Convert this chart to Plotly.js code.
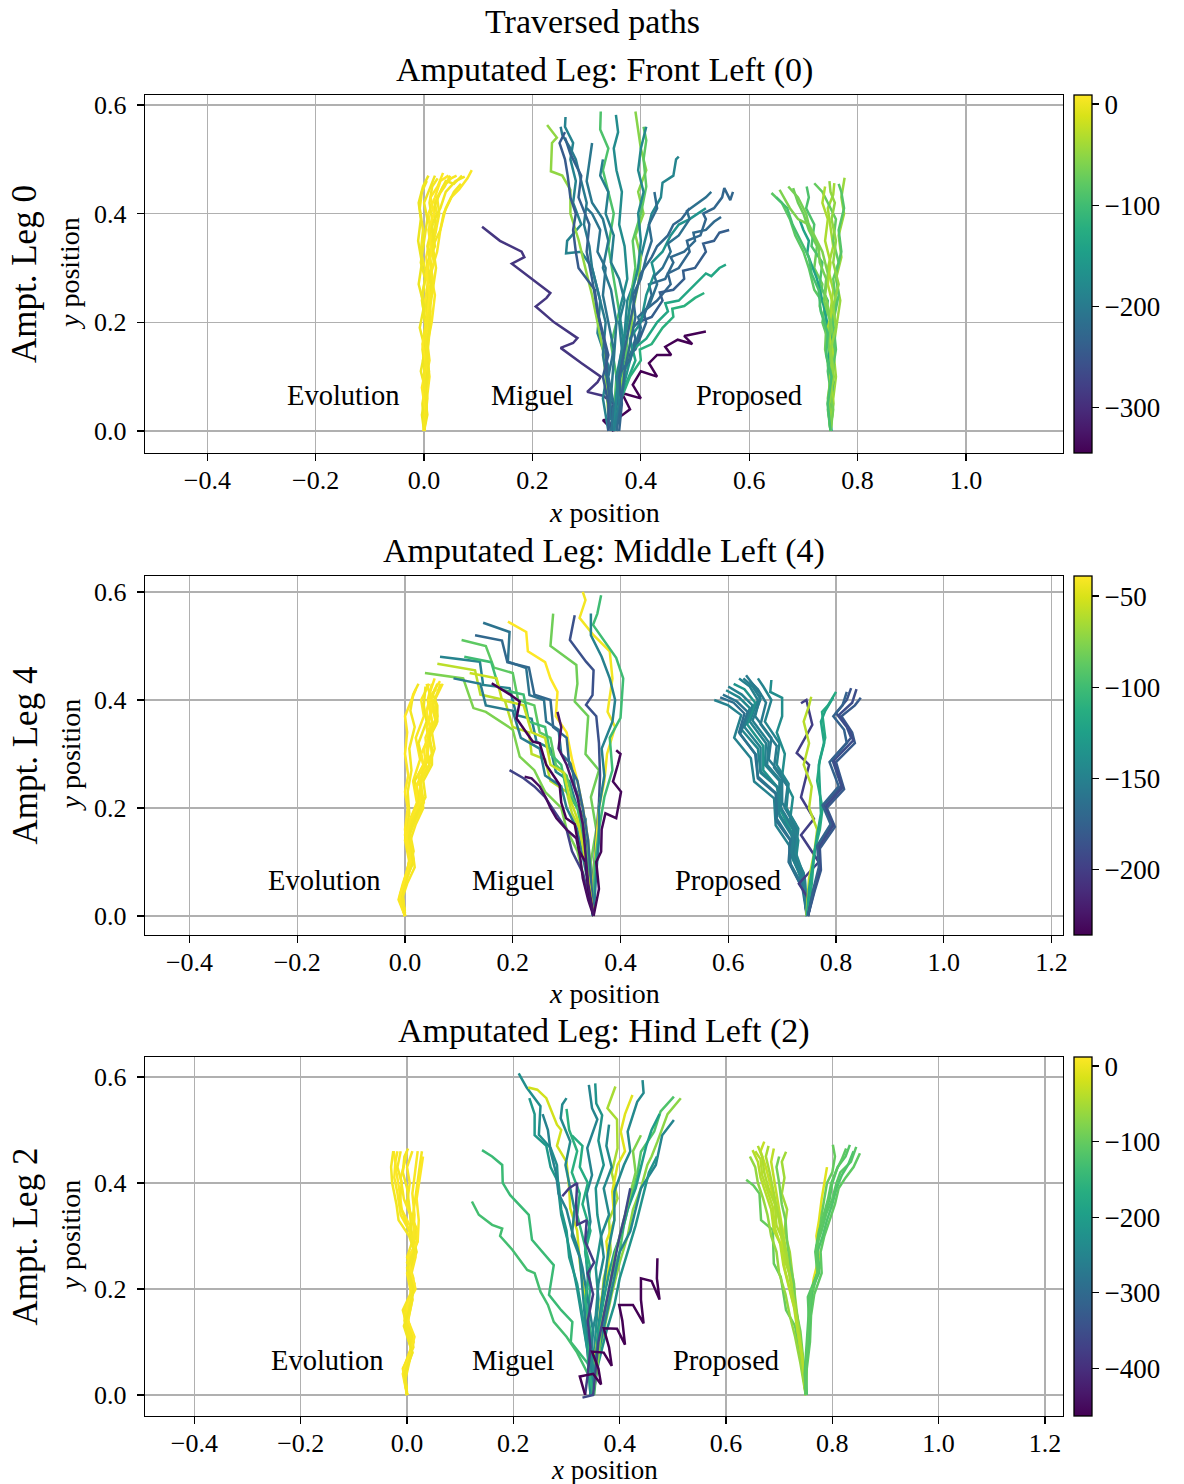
<!DOCTYPE html>
<html><head><meta charset="utf-8">
<script src="https://cdn.plot.ly/plotly-3.0.1.min.js"></script>
<style>html,body{margin:0;padding:0;background:#fff}</style>
</head><body><div id="chart" style="width:1184px;height:1484px"></div>
<script>
// ---------------- DATA ----------------
const GROUP_LABELS = ['Evolution', 'Miguel', 'Proposed'];
const GROUP_LABEL_X = [-0.15, 0.2, 0.6];
const GROUP_LABEL_Y = 0.065;
const PANEL_TITLES = ['Amputated Leg: Front Left (0)', 'Amputated Leg: Middle Left (4)', 'Amputated Leg: Hind Left (2)'];
const ROW_LABELS = ['Ampt. Leg 0', 'Ampt. Leg 4', 'Ampt. Leg 2'];
const XTICKS_1 = [-0.4, -0.2, 0.0, 0.2, 0.4, 0.6, 0.8, 1.0];
const XTICKS_2 = [-0.4, -0.2, 0.0, 0.2, 0.4, 0.6, 0.8, 1.0, 1.2];
const XTICKS_3 = [-0.4, -0.2, 0.0, 0.2, 0.4, 0.6, 0.8, 1.0, 1.2];
const YTICKS = [0.0, 0.2, 0.4, 0.6];
const CB_RANGE_1 = [-345, 9];
const CB_RANGE_2 = [-236, -39];
const CB_RANGE_3 = [-463, 12];
const CB_TICKS_1 = [0, -100, -200, -300];
const CB_TICKS_2 = [-50, -100, -150, -200];
const CB_TICKS_3 = [0, -100, -200, -300, -400];

// ---- Panel 1 (Front Left) ----
const P1_EVO = [
 [[0,0],[0.004,0.04],[-0.002,0.08],[0.005,0.12],[0.0,0.16],[0.006,0.2],[0.002,0.24],[0.008,0.28],[0.004,0.32],[0.012,0.36],[0.008,0.4],[0.02,0.43],[0.03,0.46],[0.045,0.47]],
 [[0,0],[-0.003,0.05],[0.003,0.09],[-0.002,0.13],[0.006,0.17],[0.0,0.21],[-0.004,0.25],[0.004,0.29],[-0.006,0.33],[-0.002,0.37],[-0.008,0.41],[-0.004,0.44],[0.005,0.46]],
 [[0,0],[0.005,0.04],[0.002,0.09],[0.01,0.13],[0.004,0.18],[0.012,0.22],[0.008,0.27],[0.018,0.31],[0.012,0.35],[0.025,0.39],[0.02,0.42],[0.035,0.45],[0.05,0.465],[0.06,0.47]],
 [[0,0],[0.002,0.05],[0.008,0.1],[0.003,0.14],[0.01,0.19],[0.006,0.24],[0.015,0.28],[0.01,0.33],[0.022,0.37],[0.018,0.41],[0.03,0.44],[0.04,0.46],[0.055,0.455],[0.07,0.47]],
 [[0,0],[0.006,0.06],[0.0,0.11],[0.008,0.16],[0.012,0.21],[0.005,0.26],[0.014,0.3],[0.006,0.34],[0.016,0.38],[0.01,0.42],[0.015,0.45],[0.025,0.465]],
 [[0,0],[0.004,0.05],[0.01,0.1],[0.004,0.15],[0.014,0.2],[0.02,0.25],[0.012,0.29],[0.024,0.33],[0.03,0.37],[0.04,0.41],[0.05,0.43],[0.065,0.445],[0.08,0.465],[0.088,0.48]],
 [[0,0],[-0.002,0.05],[0.004,0.1],[-0.003,0.15],[0.003,0.2],[-0.004,0.24],[0.002,0.28],[-0.006,0.31],[0.0,0.35],[0.006,0.39],[0.0,0.42],[0.012,0.45],[0.02,0.47]],
 [[0,0],[0.003,0.05],[0.0,0.1],[0.007,0.14],[0.002,0.19],[0.009,0.23],[0.016,0.28],[0.01,0.32],[0.02,0.36],[0.028,0.4],[0.024,0.43],[0.038,0.45],[0.048,0.47]],
 [[0,0],[-0.004,0.03],[0.004,0.07],[-0.006,0.11],[0.002,0.15],[-0.008,0.19],[0.0,0.23],[-0.01,0.27],[-0.004,0.31],[-0.011,0.35],[-0.006,0.39],[-0.01,0.42],[-0.002,0.45],[0.008,0.47]],
 [[0,0],[0.006,0.03],[0.001,0.07],[0.009,0.11],[0.003,0.15],[0.011,0.19],[0.004,0.23],[0.013,0.27],[0.006,0.31],[0.02,0.34],[0.014,0.38],[0.03,0.41],[0.04,0.44],[0.058,0.46],[0.075,0.468]],
 [[0,0],[0.002,0.04],[-0.004,0.08],[0.004,0.12],[-0.003,0.16],[0.005,0.2],[0.01,0.25],[0.004,0.29],[0.014,0.33],[0.008,0.37],[0.018,0.4],[0.012,0.43],[0.025,0.45],[0.035,0.475]],
 [[0,0],[0.005,0.05],[-0.001,0.1],[0.006,0.14],[0.0,0.18],[0.01,0.22],[0.016,0.26],[0.022,0.3],[0.016,0.34],[0.03,0.37],[0.036,0.4],[0.045,0.42],[0.055,0.44],[0.068,0.455]]
];
const P1_EVO_VAL = [9, 3, 6, 2, 4, 7, 1, 5, 0, 2, 8, 4];

const P1_MIG = [
 [[0.107,0.376],[0.14,0.35],[0.18,0.33],[0.185,0.32],[0.162,0.308],[0.2,0.28],[0.233,0.254],[0.226,0.245],[0.206,0.229],[0.24,0.2],[0.283,0.171],[0.275,0.162],[0.252,0.153],[0.29,0.125],[0.326,0.1],[0.32,0.09],[0.301,0.072],[0.33,0.065],[0.35,0.05],[0.34,0.02],[0.35,0.0]],
 [[0.35,0.0],[0.33,0.02],[0.36,0.025],[0.38,0.04],[0.365,0.07],[0.4,0.06],[0.385,0.085],[0.4,0.11],[0.43,0.1],[0.415,0.125],[0.43,0.14],[0.456,0.14],[0.445,0.155],[0.468,0.168],[0.495,0.16],[0.48,0.175],[0.52,0.183]],
 [[0.35,0.02],[0.37,0.1],[0.365,0.13],[0.39,0.15],[0.41,0.2],[0.405,0.22],[0.43,0.24],[0.455,0.27],[0.45,0.29],[0.47,0.3],[0.49,0.33],[0.485,0.35],[0.51,0.36],[0.52,0.39],[0.515,0.4],[0.535,0.41],[0.55,0.43],[0.554,0.447],[0.565,0.425],[0.57,0.44]],
 [[0.35,0],[0.36,0.06],[0.355,0.09],[0.375,0.12],[0.39,0.17],[0.385,0.19],[0.405,0.21],[0.42,0.25],[0.415,0.27],[0.445,0.28],[0.46,0.31],[0.455,0.32],[0.48,0.33],[0.5,0.35],[0.497,0.365],[0.52,0.37],[0.535,0.385],[0.548,0.394]],
 [[0.345,0.0],[0.355,0.05],[0.37,0.1],[0.365,0.12],[0.38,0.14],[0.4,0.18],[0.395,0.2],[0.42,0.21],[0.44,0.24],[0.435,0.255],[0.46,0.26],[0.48,0.28],[0.478,0.295],[0.5,0.3],[0.52,0.33],[0.515,0.345],[0.535,0.35],[0.545,0.365],[0.563,0.37]],
 [[0.35,0.02],[0.37,0.08],[0.39,0.13],[0.385,0.15],[0.41,0.17],[0.43,0.2],[0.45,0.22],[0.445,0.235],[0.47,0.24],[0.49,0.26],[0.51,0.28],[0.52,0.29],[0.53,0.285],[0.545,0.3],[0.557,0.306]],
 [[0.36,0.05],[0.38,0.1],[0.4,0.13],[0.398,0.15],[0.42,0.16],[0.44,0.19],[0.46,0.21],[0.458,0.225],[0.48,0.23],[0.5,0.245],[0.517,0.254]],
 [[0.35,0],[0.355,0.06],[0.36,0.12],[0.37,0.18],[0.375,0.24],[0.39,0.28],[0.4,0.32],[0.41,0.36],[0.42,0.4],[0.437,0.43],[0.44,0.457],[0.46,0.47],[0.465,0.5],[0.47,0.505]],
 [[0.34,0],[0.33,0.06],[0.34,0.12],[0.32,0.18],[0.325,0.24],[0.31,0.3],[0.29,0.33],[0.262,0.327],[0.264,0.35],[0.29,0.38],[0.275,0.42],[0.28,0.46],[0.27,0.5],[0.275,0.53],[0.26,0.56],[0.261,0.578]],
 [[0.34,0.03],[0.335,0.1],[0.33,0.15],[0.32,0.2],[0.31,0.25],[0.3,0.29],[0.285,0.352],[0.27,0.4],[0.27,0.42],[0.27,0.444],[0.255,0.47],[0.234,0.478],[0.236,0.53],[0.245,0.54],[0.227,0.563]],
 [[0.345,0.02],[0.34,0.08],[0.33,0.14],[0.335,0.2],[0.32,0.26],[0.31,0.3],[0.305,0.34],[0.295,0.38],[0.3,0.42],[0.29,0.46],[0.28,0.5],[0.27,0.52],[0.255,0.545],[0.252,0.56]],
 [[0.35,0.03],[0.355,0.1],[0.345,0.16],[0.36,0.22],[0.35,0.28],[0.34,0.34],[0.35,0.4],[0.34,0.44],[0.33,0.48],[0.34,0.52],[0.325,0.555],[0.326,0.588]],
 [[0.355,0],[0.36,0.08],[0.37,0.15],[0.36,0.22],[0.375,0.28],[0.37,0.34],[0.36,0.38],[0.365,0.44],[0.355,0.48],[0.35,0.52],[0.358,0.55],[0.354,0.582]],
 [[0.36,0.02],[0.365,0.09],[0.38,0.16],[0.385,0.22],[0.395,0.27],[0.4,0.32],[0.39,0.36],[0.405,0.4],[0.395,0.44],[0.41,0.48],[0.4,0.52],[0.395,0.55],[0.39,0.588]],
 [[0.355,0.03],[0.37,0.1],[0.375,0.17],[0.38,0.24],[0.39,0.3],[0.385,0.35],[0.4,0.4],[0.41,0.45],[0.405,0.5],[0.41,0.535],[0.405,0.56]],
 [[0.35,0.0],[0.34,0.08],[0.335,0.15],[0.32,0.22],[0.31,0.28],[0.3,0.33],[0.305,0.38],[0.285,0.43],[0.29,0.47],[0.27,0.51],[0.26,0.54]],
 [[0.34,0.0],[0.345,0.06],[0.35,0.13],[0.355,0.2],[0.345,0.26],[0.33,0.3],[0.34,0.35],[0.33,0.39],[0.31,0.42],[0.3,0.46],[0.305,0.5],[0.31,0.53]],
 [[0.355,0.02],[0.37,0.09],[0.385,0.15],[0.38,0.17],[0.4,0.2],[0.41,0.25],[0.425,0.29],[0.42,0.31],[0.44,0.33],[0.455,0.36],[0.47,0.38],[0.49,0.39],[0.505,0.4],[0.52,0.41]],
 [[0.345,0],[0.36,0.07],[0.355,0.1],[0.38,0.13],[0.4,0.19],[0.395,0.21],[0.415,0.23],[0.43,0.27],[0.425,0.285],[0.44,0.3],[0.455,0.33],[0.45,0.345],[0.47,0.36],[0.49,0.39],[0.485,0.405],[0.505,0.42],[0.52,0.43],[0.53,0.44]],
 [[0.35,0.0],[0.355,0.07],[0.365,0.14],[0.375,0.2],[0.385,0.26],[0.395,0.3],[0.4,0.35],[0.395,0.4],[0.405,0.44],[0.395,0.48],[0.4,0.52],[0.41,0.56]],
 [[0.345,0.0],[0.35,0.05],[0.34,0.1],[0.35,0.15],[0.34,0.2],[0.33,0.25],[0.335,0.3],[0.32,0.33],[0.325,0.37],[0.31,0.4],[0.3,0.41]],
 [[0.35,0.0],[0.36,0.05],[0.355,0.1],[0.365,0.15],[0.36,0.2],[0.37,0.24],[0.36,0.28],[0.345,0.31],[0.35,0.36],[0.335,0.4],[0.34,0.44],[0.325,0.47],[0.33,0.5]],
 [[0.355,0.0],[0.365,0.06],[0.37,0.11],[0.38,0.16],[0.39,0.21],[0.385,0.25],[0.4,0.28],[0.41,0.32],[0.42,0.35],[0.415,0.38],[0.43,0.41],[0.425,0.44]],
 [[0.34,0.0],[0.34,0.05],[0.33,0.1],[0.34,0.14],[0.33,0.18],[0.32,0.22],[0.315,0.26],[0.3,0.28],[0.285,0.3],[0.28,0.33],[0.275,0.37],[0.28,0.4],[0.27,0.43],[0.265,0.47],[0.26,0.5],[0.25,0.53],[0.26,0.55]],
 [[0.36,0.0],[0.365,0.05],[0.36,0.1],[0.37,0.15],[0.38,0.2],[0.39,0.25],[0.4,0.29],[0.42,0.32],[0.43,0.34],[0.45,0.36],[0.46,0.38],[0.475,0.39],[0.49,0.41]]
];
const P1_MIG_VAL = [-290, -345, -230, -225, -240, -135, -120, -185, -190, -50, -200, -90, -175, -55, -80, -235, -205, -165, -215, -180, -210, -195, -220, -245, -230];

const P1_PRO = [
 [[0.75,0],[0.745,0.04],[0.752,0.08],[0.745,0.12],[0.748,0.16],[0.735,0.2],[0.74,0.23],[0.72,0.26],[0.71,0.3],[0.7,0.33],[0.685,0.36],[0.675,0.39],[0.66,0.42],[0.641,0.438]],
 [[0.75,0],[0.748,0.05],[0.755,0.1],[0.748,0.14],[0.755,0.18],[0.75,0.22],[0.755,0.26],[0.745,0.3],[0.755,0.34],[0.75,0.38],[0.745,0.41],[0.755,0.435],[0.757,0.456]],
 [[0.75,0],[0.745,0.05],[0.75,0.1],[0.74,0.15],[0.742,0.19],[0.73,0.23],[0.735,0.27],[0.72,0.3],[0.725,0.34],[0.71,0.37],[0.7,0.4],[0.69,0.42],[0.681,0.447]],
 [[0.752,0.02],[0.755,0.06],[0.76,0.1],[0.755,0.15],[0.762,0.2],[0.768,0.24],[0.76,0.28],[0.77,0.32],[0.765,0.36],[0.775,0.4],[0.77,0.43],[0.776,0.466]],
 [[0.75,0],[0.752,0.06],[0.745,0.11],[0.75,0.16],[0.74,0.2],[0.745,0.24],[0.73,0.27],[0.735,0.31],[0.715,0.34],[0.72,0.38],[0.705,0.41],[0.71,0.43],[0.706,0.45]],
 [[0.75,0],[0.755,0.05],[0.75,0.1],[0.758,0.15],[0.75,0.19],[0.76,0.24],[0.755,0.28],[0.765,0.31],[0.755,0.35],[0.76,0.39],[0.745,0.42],[0.735,0.44],[0.72,0.456]],
 [[0.752,0],[0.748,0.04],[0.755,0.09],[0.745,0.13],[0.752,0.17],[0.746,0.19],[0.736,0.236],[0.725,0.28],[0.707,0.327],[0.71,0.35],[0.7,0.37],[0.693,0.389]],
 [[0.75,0],[0.745,0.06],[0.752,0.11],[0.748,0.16],[0.752,0.2],[0.74,0.25],[0.745,0.29],[0.735,0.33],[0.72,0.36],[0.71,0.38],[0.69,0.39],[0.675,0.41],[0.656,0.444]],
 [[0.75,0],[0.755,0.05],[0.75,0.1],[0.755,0.14],[0.745,0.19],[0.755,0.23],[0.745,0.27],[0.75,0.31],[0.74,0.35],[0.745,0.39],[0.735,0.42],[0.74,0.45]],
 [[0.75,0],[0.745,0.05],[0.752,0.1],[0.76,0.15],[0.755,0.2],[0.765,0.25],[0.76,0.29],[0.77,0.33],[0.765,0.37],[0.775,0.41],[0.77,0.44],[0.765,0.455]],
 [[0.75,0],[0.755,0.04],[0.748,0.08],[0.756,0.12],[0.745,0.16],[0.75,0.2],[0.738,0.24],[0.742,0.28],[0.73,0.31],[0.728,0.34],[0.712,0.37],[0.705,0.4],[0.69,0.43],[0.672,0.45]],
 [[0.75,0],[0.748,0.05],[0.756,0.1],[0.75,0.15],[0.76,0.19],[0.755,0.23],[0.765,0.27],[0.755,0.31],[0.76,0.35],[0.752,0.39],[0.758,0.42],[0.75,0.44],[0.748,0.46]],
 [[0.75,0],[0.745,0.05],[0.752,0.1],[0.742,0.14],[0.745,0.18],[0.732,0.22],[0.728,0.26],[0.715,0.29],[0.71,0.32],[0.7,0.34],[0.69,0.36],[0.68,0.38],[0.67,0.41],[0.65,0.43]]
];
const P1_PRO_VAL = [-80, -40, -70, -45, -90, -75, -140, -60, -35, -85, -65, -50, -95];

// ---- Panel 2 (Middle Left) ----
const P2_EVO = [
 [[0,0],[-0.008,0.03],[0.0,0.065],[0.012,0.1],[0.004,0.14],[0.015,0.17],[0.03,0.2],[0.022,0.24],[0.04,0.27],[0.035,0.31],[0.052,0.35],[0.045,0.39],[0.055,0.42],[0.065,0.435]],
 [[0,0],[-0.006,0.035],[0.004,0.07],[0.015,0.105],[0.006,0.145],[0.02,0.18],[0.035,0.21],[0.028,0.25],[0.045,0.28],[0.04,0.32],[0.058,0.355],[0.05,0.39],[0.06,0.41],[0.07,0.43]],
 [[0,0],[-0.01,0.03],[-0.002,0.06],[0.008,0.1],[0.0,0.14],[0.01,0.18],[0.022,0.21],[0.015,0.25],[0.028,0.29],[0.02,0.33],[0.035,0.37],[0.03,0.4],[0.045,0.43]],
 [[0,0],[-0.008,0.035],[0.0,0.07],[0.01,0.11],[0.0,0.15],[0.008,0.19],[0.005,0.23],[0.012,0.27],[0.008,0.31],[0.018,0.35],[0.01,0.38],[0.015,0.41],[0.025,0.43]],
 [[0,0],[-0.005,0.04],[0.005,0.08],[0.014,0.11],[0.005,0.15],[0.018,0.19],[0.032,0.22],[0.025,0.26],[0.042,0.29],[0.038,0.33],[0.05,0.36],[0.042,0.4],[0.05,0.43]],
 [[0,0.005],[-0.006,0.04],[0.002,0.075],[0.01,0.11],[0.004,0.15],[0.012,0.18],[0.026,0.21],[0.018,0.25],[0.034,0.28],[0.025,0.32],[0.04,0.36],[0.035,0.39],[0.038,0.425]],
 [[0,0],[-0.008,0.03],[0.002,0.065],[0.014,0.1],[0.002,0.14],[0.012,0.17],[0.025,0.2],[0.02,0.24],[0.036,0.27],[0.03,0.3],[0.048,0.34],[0.04,0.38],[0.048,0.41],[0.058,0.42]],
 [[0,0],[-0.004,0.04],[0.004,0.08],[0.016,0.12],[0.008,0.16],[0.022,0.2],[0.028,0.23],[0.032,0.27],[0.05,0.3],[0.045,0.34],[0.06,0.37],[0.055,0.4],[0.066,0.43]],
 [[0,0],[-0.012,0.03],[-0.004,0.06],[0.006,0.09],[0.01,0.12],[0.002,0.15],[0.01,0.18],[0.028,0.21],[0.03,0.24],[0.024,0.26],[0.04,0.29],[0.045,0.32],[0.04,0.35],[0.05,0.38],[0.045,0.41],[0.055,0.44]],
 [[0,0.01],[-0.009,0.04],[0.002,0.07],[0.016,0.1],[0.012,0.13],[0.008,0.15],[0.022,0.19],[0.038,0.22],[0.034,0.25],[0.05,0.28],[0.05,0.31],[0.044,0.33],[0.06,0.36],[0.06,0.39],[0.052,0.41],[0.06,0.43]],
 [[0,0],[-0.01,0.035],[0.0,0.07],[0.01,0.1],[0.004,0.13],[0.0,0.16],[0.005,0.2],[0.0,0.23],[0.006,0.26],[0.0,0.3],[0.004,0.34],[0.0,0.37],[0.012,0.4],[0.02,0.42]],
 [[0,0],[-0.006,0.03],[0.004,0.06],[0.018,0.09],[0.014,0.12],[0.01,0.14],[0.02,0.17],[0.034,0.2],[0.03,0.23],[0.03,0.25],[0.045,0.28],[0.055,0.31],[0.05,0.34],[0.058,0.37],[0.05,0.4],[0.04,0.43]]
];
const P2_EVO_VAL = [-39, -41, -40, -42, -40, -43, -39, -41, -40, -42, -39, -41];

const P2_MIG = [
 [[0.037,0.45],[0.108,0.44],[0.127,0.385],[0.15,0.378],[0.2,0.345],[0.213,0.295],[0.24,0.27],[0.26,0.23],[0.29,0.2],[0.3,0.16],[0.32,0.12],[0.33,0.08],[0.34,0.04],[0.35,0.0]],
 [[0.065,0.48],[0.139,0.471],[0.145,0.428],[0.194,0.422],[0.207,0.372],[0.235,0.365],[0.244,0.323],[0.27,0.31],[0.28,0.267],[0.305,0.25],[0.318,0.206],[0.335,0.18],[0.34,0.12],[0.345,0.06],[0.35,0.0]],
 [[0.06,0.467],[0.13,0.455],[0.14,0.41],[0.185,0.4],[0.2,0.35],[0.23,0.34],[0.235,0.3],[0.26,0.29],[0.27,0.25],[0.3,0.23],[0.31,0.19],[0.33,0.15],[0.335,0.1],[0.345,0.05],[0.35,0]],
 [[0.105,0.511],[0.15,0.5],[0.165,0.46],[0.2,0.45],[0.21,0.4],[0.24,0.39],[0.25,0.34],[0.27,0.33],[0.28,0.28],[0.3,0.26],[0.31,0.22],[0.325,0.19],[0.33,0.14],[0.34,0.08],[0.35,0]],
 [[0.145,0.543],[0.194,0.526],[0.191,0.471],[0.225,0.459],[0.231,0.409],[0.258,0.4],[0.262,0.36],[0.285,0.345],[0.29,0.3],[0.31,0.28],[0.315,0.24],[0.33,0.2],[0.335,0.15],[0.345,0.08],[0.348,0.0]],
 [[0.191,0.545],[0.225,0.526],[0.228,0.49],[0.26,0.47],[0.27,0.44],[0.283,0.415],[0.28,0.37],[0.3,0.34],[0.31,0.29],[0.32,0.25],[0.33,0.2],[0.34,0.14],[0.345,0.07],[0.35,0.0]],
 [[0.275,0.56],[0.27,0.5],[0.318,0.465],[0.32,0.43],[0.315,0.397],[0.34,0.37],[0.335,0.3],[0.36,0.27],[0.345,0.22],[0.355,0.16],[0.345,0.1],[0.35,0.04],[0.35,0.0]],
 [[0.315,0.557],[0.306,0.511],[0.336,0.471],[0.35,0.455],[0.348,0.409],[0.336,0.391],[0.355,0.37],[0.36,0.32],[0.362,0.26],[0.36,0.21],[0.355,0.15],[0.35,0.08],[0.35,0.0]],
 [[0.33,0.6],[0.335,0.585],[0.324,0.552],[0.35,0.52],[0.38,0.49],[0.385,0.44],[0.376,0.378],[0.39,0.35],[0.375,0.3],[0.37,0.25],[0.36,0.2],[0.355,0.14],[0.35,0.07],[0.35,0.0]],
 [[0.364,0.594],[0.357,0.56],[0.349,0.539],[0.37,0.51],[0.392,0.478],[0.405,0.44],[0.4,0.367],[0.38,0.33],[0.385,0.27],[0.37,0.22],[0.36,0.16],[0.352,0.09],[0.35,0.0]],
 [[0.345,0.56],[0.345,0.52],[0.365,0.48],[0.38,0.44],[0.39,0.4],[0.385,0.36],[0.365,0.31],[0.37,0.26],[0.36,0.2],[0.36,0.14],[0.355,0.08],[0.35,0.0]],
 [[0.09,0.44],[0.14,0.43],[0.15,0.39],[0.2,0.38],[0.215,0.33],[0.25,0.31],[0.26,0.26],[0.29,0.24],[0.3,0.2],[0.32,0.16],[0.33,0.11],[0.34,0.06],[0.35,0.0]],
 [[0.11,0.48],[0.16,0.47],[0.175,0.42],[0.22,0.41],[0.23,0.36],[0.26,0.35],[0.27,0.3],[0.29,0.28],[0.3,0.23],[0.32,0.2],[0.33,0.15],[0.34,0.1],[0.345,0.05],[0.35,0.0]],
 [[0.13,0.52],[0.18,0.51],[0.19,0.47],[0.23,0.46],[0.24,0.41],[0.27,0.4],[0.275,0.35],[0.3,0.33],[0.305,0.28],[0.32,0.25],[0.33,0.2],[0.34,0.14],[0.345,0.07],[0.35,0]],
 [[0.12,0.45],[0.17,0.44],[0.18,0.4],[0.22,0.39],[0.235,0.34],[0.26,0.33],[0.27,0.28],[0.295,0.265],[0.305,0.22],[0.32,0.18],[0.33,0.13],[0.34,0.07],[0.35,0.0]],
 [[0.194,0.27],[0.22,0.255],[0.24,0.24],[0.26,0.22],[0.28,0.19],[0.3,0.16],[0.31,0.12],[0.33,0.08],[0.34,0.04],[0.35,0.0]],
 [[0.161,0.431],[0.195,0.41],[0.213,0.397],[0.207,0.366],[0.237,0.323],[0.25,0.32],[0.262,0.28],[0.287,0.243],[0.29,0.21],[0.299,0.181],[0.315,0.17],[0.324,0.119],[0.335,0.1],[0.34,0.05],[0.35,0.0]],
 [[0.222,0.258],[0.235,0.255],[0.25,0.24],[0.262,0.218],[0.27,0.2],[0.281,0.181],[0.3,0.16],[0.318,0.144],[0.325,0.11],[0.33,0.07],[0.34,0.03],[0.35,0.0]],
 [[0.392,0.307],[0.4,0.3],[0.395,0.28],[0.386,0.249],[0.401,0.23],[0.392,0.181],[0.372,0.19],[0.365,0.16],[0.364,0.119],[0.355,0.1],[0.36,0.05],[0.35,0.0]],
 [[0.283,0.378],[0.29,0.35],[0.285,0.31],[0.3,0.28],[0.31,0.25],[0.32,0.22],[0.33,0.17],[0.335,0.12],[0.34,0.06],[0.35,0.0]]
];
const P2_MIG_VAL = [-78, -149, -59, -88, -161, -39, -82, -187, -42, -100, -150, -155, -100, -170, -55, -197, -236, -230, -233, -225];

const P2_PRO = [
 [[0.574,0.4],[0.6,0.39],[0.624,0.372],[0.611,0.33],[0.642,0.292],[0.648,0.249],[0.685,0.218],[0.688,0.168],[0.713,0.131],[0.716,0.094],[0.741,0.045],[0.746,0.0]],
 [[0.596,0.418],[0.62,0.405],[0.64,0.385],[0.625,0.345],[0.655,0.31],[0.66,0.265],[0.695,0.235],[0.695,0.185],[0.72,0.145],[0.72,0.105],[0.74,0.06],[0.746,0.0]],
 [[0.633,0.446],[0.645,0.43],[0.66,0.41],[0.65,0.37],[0.68,0.33],[0.675,0.29],[0.7,0.26],[0.7,0.21],[0.725,0.17],[0.72,0.12],[0.74,0.08],[0.745,0.0]],
 [[0.62,0.44],[0.64,0.425],[0.655,0.4],[0.64,0.36],[0.67,0.32],[0.668,0.28],[0.695,0.25],[0.695,0.2],[0.72,0.16],[0.715,0.12],[0.738,0.07],[0.746,0.0]],
 [[0.68,0.437],[0.678,0.415],[0.7,0.404],[0.7,0.37],[0.69,0.34],[0.705,0.3],[0.7,0.26],[0.72,0.22],[0.715,0.18],[0.73,0.14],[0.725,0.1],[0.74,0.05],[0.746,0.0]],
 [[0.585,0.405],[0.61,0.395],[0.63,0.375],[0.62,0.34],[0.65,0.3],[0.655,0.255],[0.69,0.225],[0.69,0.175],[0.715,0.14],[0.712,0.1],[0.738,0.05],[0.746,0.0]],
 [[0.61,0.43],[0.63,0.42],[0.65,0.395],[0.635,0.355],[0.665,0.315],[0.665,0.27],[0.69,0.24],[0.7,0.19],[0.72,0.15],[0.718,0.11],[0.74,0.065],[0.746,0.0]],
 [[0.64,0.435],[0.655,0.42],[0.67,0.395],[0.66,0.355],[0.69,0.315],[0.685,0.275],[0.71,0.24],[0.705,0.2],[0.728,0.16],[0.722,0.115],[0.742,0.07],[0.746,0.0]],
 [[0.6,0.425],[0.625,0.41],[0.645,0.39],[0.63,0.35],[0.66,0.312],[0.66,0.268],[0.692,0.238],[0.694,0.19],[0.718,0.152],[0.718,0.11],[0.74,0.062],[0.746,0.0]],
 [[0.655,0.44],[0.665,0.425],[0.68,0.4],[0.668,0.36],[0.695,0.32],[0.69,0.28],[0.712,0.245],[0.708,0.2],[0.73,0.162],[0.725,0.118],[0.742,0.07],[0.746,0.0]],
 [[0.59,0.41],[0.615,0.398],[0.636,0.378],[0.622,0.337],[0.652,0.298],[0.655,0.258],[0.688,0.228],[0.69,0.18],[0.716,0.14],[0.714,0.1],[0.74,0.052],[0.746,0.0]],
 [[0.628,0.44],[0.645,0.425],[0.66,0.402],[0.645,0.362],[0.675,0.322],[0.672,0.28],[0.698,0.25],[0.698,0.2],[0.722,0.16],[0.717,0.118],[0.74,0.07],[0.746,0.0]],
 [[0.735,0.394],[0.745,0.4],[0.756,0.354],[0.727,0.302],[0.75,0.28],[0.735,0.22],[0.759,0.18],[0.735,0.15],[0.768,0.1],[0.731,0.06],[0.75,0.03],[0.746,0.0]],
 [[0.754,0.406],[0.75,0.39],[0.74,0.36],[0.75,0.32],[0.74,0.28],[0.755,0.24],[0.75,0.2],[0.765,0.16],[0.76,0.12],[0.75,0.07],[0.745,0.0]],
 [[0.8,0.415],[0.785,0.39],[0.774,0.378],[0.78,0.33],[0.77,0.29],[0.765,0.25],[0.775,0.2],[0.77,0.16],[0.76,0.12],[0.755,0.06],[0.748,0.0]],
 [[0.795,0.405],[0.78,0.38],[0.772,0.36],[0.778,0.32],[0.768,0.28],[0.77,0.24],[0.772,0.19],[0.765,0.15],[0.758,0.1],[0.75,0.05],[0.746,0.0]],
 [[0.828,0.422],[0.82,0.4],[0.8,0.376],[0.82,0.35],[0.828,0.33],[0.793,0.29],[0.81,0.24],[0.777,0.205],[0.793,0.17],[0.766,0.13],[0.77,0.09],[0.76,0.05],[0.748,0.0]],
 [[0.846,0.404],[0.835,0.39],[0.81,0.37],[0.83,0.34],[0.835,0.32],[0.8,0.285],[0.815,0.235],[0.783,0.2],[0.798,0.165],[0.77,0.125],[0.772,0.085],[0.76,0.045],[0.748,0.0]],
 [[0.838,0.42],[0.83,0.395],[0.805,0.372],[0.825,0.345],[0.832,0.325],[0.796,0.288],[0.812,0.238],[0.78,0.202],[0.795,0.168],[0.768,0.128],[0.77,0.087],[0.758,0.047],[0.748,0.0]],
 [[0.82,0.415],[0.812,0.39],[0.795,0.37],[0.815,0.345],[0.82,0.32],[0.788,0.285],[0.805,0.24],[0.775,0.205],[0.79,0.17],[0.765,0.13],[0.768,0.09],[0.758,0.05],[0.748,0.0]]
];
const P2_PRO_VAL = [-150, -145, -155, -150, -140, -165, -135, -155, -150, -148, -160, -152, -200, -60, -115, -120, -185, -180, -190, -175];

// ---- Panel 3 (Hind Left) ----
const P3_EVO = [
 [[0,0],[-0.005,0.04],[0.01,0.08],[0.0,0.12],[-0.005,0.15],[0.01,0.19],[0.002,0.24],[0.015,0.28],[0.005,0.32],[-0.01,0.35],[-0.015,0.39],[-0.02,0.42],[-0.025,0.46]],
 [[0,0],[-0.008,0.05],[0.012,0.09],[0.005,0.13],[-0.004,0.16],[0.012,0.2],[0.005,0.25],[0.02,0.29],[0.012,0.33],[0.0,0.36],[0.005,0.4],[0.0,0.43],[0.01,0.46]],
 [[0,0],[-0.006,0.045],[0.008,0.085],[-0.004,0.13],[0.006,0.17],[0.014,0.21],[0.0,0.25],[0.018,0.29],[0.01,0.33],[0.015,0.37],[0.02,0.41],[0.025,0.44],[0.028,0.46]],
 [[0,0.005],[-0.007,0.05],[0.01,0.095],[-0.005,0.14],[0.008,0.19],[0.0,0.23],[0.016,0.27],[0.004,0.31],[-0.012,0.34],[-0.018,0.38],[-0.024,0.41],[-0.022,0.44],[-0.018,0.46]],
 [[0,0],[-0.004,0.05],[0.012,0.1],[0.002,0.14],[0.01,0.18],[0.004,0.23],[0.018,0.27],[0.008,0.31],[0.005,0.35],[0.0,0.39],[-0.008,0.42],[-0.005,0.45],[0.002,0.465]],
 [[0,0],[-0.007,0.045],[0.01,0.09],[0.0,0.135],[0.01,0.18],[0.006,0.22],[0.016,0.26],[0.012,0.3],[0.014,0.34],[0.01,0.38],[0.015,0.42],[0.02,0.46]],
 [[0,0],[-0.006,0.05],[0.008,0.09],[-0.003,0.14],[0.01,0.19],[0.002,0.24],[0.016,0.28],[0.0,0.32],[-0.014,0.36],[-0.01,0.4],[-0.018,0.43],[-0.012,0.46]],
 [[0,0],[-0.003,0.03],[0.006,0.07],[0.012,0.1],[0.0,0.13],[-0.008,0.16],[0.006,0.19],[0.012,0.22],[0.0,0.26],[0.01,0.29],[0.02,0.31],[0.006,0.34],[-0.006,0.37],[-0.012,0.41],[-0.004,0.44],[0.0,0.46]],
 [[0,0],[-0.008,0.04],[0.006,0.08],[0.014,0.11],[0.002,0.14],[0.0,0.17],[0.016,0.2],[0.008,0.23],[0.002,0.26],[0.02,0.29],[0.022,0.33],[0.018,0.37],[0.024,0.41],[0.03,0.45]],
 [[0,0],[-0.005,0.04],[0.01,0.08],[-0.006,0.13],[0.004,0.16],[0.012,0.2],[0.0,0.24],[0.014,0.27],[0.004,0.3],[-0.016,0.33],[-0.02,0.36],[-0.028,0.4],[-0.03,0.43],[-0.026,0.46]]
];
const P3_EVO_VAL = [12, 8, 5, 10, 3, 9, 6, 7, 11, 4];

const P3_MIG = [
 [[0.141,0.462],[0.16,0.45],[0.179,0.434],[0.18,0.4],[0.194,0.377],[0.21,0.36],[0.229,0.34],[0.235,0.293],[0.255,0.27],[0.276,0.245],[0.267,0.189],[0.29,0.16],[0.311,0.138],[0.308,0.1],[0.342,0.057],[0.35,0.0]],
 [[0.122,0.365],[0.135,0.34],[0.16,0.321],[0.179,0.314],[0.175,0.3],[0.198,0.274],[0.226,0.236],[0.24,0.23],[0.251,0.195],[0.265,0.17],[0.276,0.138],[0.3,0.11],[0.32,0.08],[0.34,0.04],[0.35,0.0]],
 [[0.21,0.607],[0.225,0.58],[0.251,0.545],[0.248,0.491],[0.27,0.466],[0.282,0.434],[0.285,0.384],[0.29,0.34],[0.301,0.296],[0.31,0.25],[0.32,0.2],[0.33,0.14],[0.34,0.08],[0.348,0.0]],
 [[0.228,0.58],[0.245,0.576],[0.262,0.56],[0.282,0.51],[0.29,0.5],[0.282,0.47],[0.3,0.44],[0.305,0.39],[0.307,0.352],[0.32,0.31],[0.325,0.25],[0.335,0.18],[0.34,0.1],[0.345,0.0]],
 [[0.3,0.56],[0.292,0.548],[0.289,0.522],[0.307,0.478],[0.298,0.434],[0.307,0.39],[0.315,0.35],[0.31,0.3],[0.325,0.26],[0.33,0.2],[0.335,0.14],[0.345,0.07],[0.35,0.0]],
 [[0.342,0.585],[0.348,0.541],[0.358,0.52],[0.339,0.466],[0.348,0.415],[0.338,0.38],[0.345,0.327],[0.335,0.28],[0.34,0.22],[0.335,0.15],[0.34,0.08],[0.345,0.0]],
 [[0.354,0.588],[0.356,0.55],[0.367,0.528],[0.36,0.48],[0.37,0.434],[0.355,0.39],[0.358,0.34],[0.365,0.3],[0.355,0.24],[0.36,0.18],[0.355,0.12],[0.35,0.06],[0.35,0.0]],
 [[0.392,0.582],[0.377,0.541],[0.395,0.52],[0.396,0.466],[0.385,0.42],[0.396,0.371],[0.38,0.33],[0.383,0.27],[0.37,0.22],[0.365,0.16],[0.36,0.1],[0.355,0.05],[0.35,0.0]],
 [[0.424,0.566],[0.41,0.53],[0.402,0.497],[0.41,0.46],[0.396,0.434],[0.386,0.384],[0.39,0.33],[0.375,0.29],[0.38,0.24],[0.365,0.18],[0.36,0.12],[0.352,0.06],[0.35,0.0]],
 [[0.443,0.594],[0.445,0.57],[0.433,0.553],[0.415,0.497],[0.42,0.46],[0.408,0.434],[0.39,0.384],[0.39,0.33],[0.38,0.28],[0.37,0.2],[0.36,0.13],[0.355,0.06],[0.35,0.0]],
 [[0.502,0.563],[0.477,0.535],[0.465,0.497],[0.44,0.459],[0.433,0.415],[0.42,0.37],[0.408,0.321],[0.4,0.27],[0.385,0.22],[0.375,0.16],[0.36,0.09],[0.352,0.0]],
 [[0.515,0.56],[0.49,0.53],[0.471,0.478],[0.46,0.45],[0.452,0.434],[0.44,0.39],[0.425,0.35],[0.415,0.3],[0.4,0.25],[0.385,0.19],[0.37,0.12],[0.355,0.05],[0.35,0.0]],
 [[0.502,0.519],[0.48,0.49],[0.468,0.434],[0.44,0.39],[0.43,0.35],[0.42,0.309],[0.4,0.27],[0.39,0.22],[0.375,0.15],[0.36,0.08],[0.35,0.0]],
 [[0.23,0.56],[0.24,0.53],[0.24,0.49],[0.262,0.47],[0.27,0.43],[0.285,0.4],[0.29,0.35],[0.3,0.31],[0.305,0.26],[0.32,0.21],[0.33,0.15],[0.34,0.08],[0.345,0.0]],
 [[0.31,0.49],[0.33,0.47],[0.325,0.43],[0.34,0.4],[0.33,0.36],[0.345,0.31],[0.335,0.27],[0.345,0.21],[0.34,0.15],[0.348,0.08],[0.35,0.0]],
 [[0.47,0.45],[0.455,0.42],[0.44,0.36],[0.43,0.32],[0.415,0.27],[0.4,0.22],[0.39,0.17],[0.375,0.12],[0.36,0.06],[0.35,0.0]],
 [[0.35,0.0],[0.345,0.06],[0.35,0.12],[0.34,0.18],[0.33,0.24],[0.32,0.28],[0.31,0.31],[0.3,0.35],[0.285,0.38],[0.28,0.42],[0.27,0.46],[0.265,0.5],[0.255,0.53]],
 [[0.35,0.0],[0.355,0.06],[0.36,0.12],[0.37,0.18],[0.38,0.23],[0.39,0.27],[0.405,0.31],[0.415,0.35],[0.43,0.39],[0.44,0.43],[0.45,0.47],[0.46,0.5],[0.475,0.53]],
 [[0.345,0.0],[0.35,0.05],[0.345,0.1],[0.355,0.15],[0.36,0.21],[0.37,0.26],[0.365,0.3],[0.38,0.34],[0.37,0.39],[0.385,0.43],[0.375,0.47],[0.38,0.51]],
 [[0.35,0.0],[0.34,0.06],[0.345,0.12],[0.335,0.18],[0.345,0.24],[0.33,0.3],[0.32,0.34],[0.325,0.38],[0.31,0.42],[0.32,0.46],[0.305,0.5],[0.3,0.54]],
 [[0.35,0.0],[0.36,0.07],[0.365,0.13],[0.38,0.2],[0.39,0.26],[0.4,0.3],[0.41,0.34],[0.42,0.38],[0.43,0.42],[0.425,0.46],[0.44,0.49]],
 [[0.292,0.375],[0.305,0.39],[0.32,0.4],[0.318,0.36],[0.32,0.321],[0.338,0.33],[0.335,0.29],[0.352,0.25],[0.34,0.23],[0.35,0.19],[0.34,0.14],[0.345,0.09],[0.34,0.04],[0.335,0.0]],
 [[0.42,0.39],[0.41,0.34],[0.4,0.3],[0.39,0.25],[0.38,0.2],[0.37,0.15],[0.36,0.1],[0.355,0.05],[0.35,0.0],[0.33,-0.005]],
 [[0.335,0.0],[0.325,0.035],[0.35,0.04],[0.365,0.02],[0.36,0.05],[0.348,0.082],[0.37,0.08],[0.385,0.055],[0.38,0.09],[0.37,0.126],[0.395,0.125],[0.41,0.095],[0.405,0.14],[0.399,0.17],[0.425,0.17],[0.445,0.135],[0.44,0.18],[0.44,0.22],[0.46,0.215],[0.475,0.18],[0.47,0.22],[0.471,0.258]]
];
const P3_MIG_VAL = [-140, -130, -230, -20, -240, -250, -220, -50, -10, -240, -120, -70, -250, -210, -170, -220, -255, -200, -240, -160, -80, -380, -360, -463];

const P3_PRO = [
 [[0.638,0.406],[0.652,0.395],[0.663,0.38],[0.666,0.33],[0.688,0.311],[0.69,0.248],[0.703,0.223],[0.713,0.16],[0.73,0.13],[0.738,0.08],[0.745,0.04],[0.751,0.0]],
 [[0.65,0.462],[0.66,0.44],[0.665,0.41],[0.675,0.38],[0.685,0.35],[0.69,0.31],[0.705,0.28],[0.71,0.24],[0.72,0.2],[0.73,0.16],[0.735,0.12],[0.742,0.07],[0.75,0.0]],
 [[0.672,0.478],[0.665,0.46],[0.675,0.43],[0.682,0.4],[0.69,0.37],[0.7,0.33],[0.705,0.29],[0.715,0.25],[0.725,0.21],[0.73,0.17],[0.738,0.12],[0.745,0.06],[0.752,0.0]],
 [[0.713,0.459],[0.705,0.44],[0.71,0.41],[0.705,0.38],[0.715,0.35],[0.71,0.31],[0.72,0.27],[0.725,0.23],[0.73,0.19],[0.735,0.15],[0.74,0.1],[0.745,0.05],[0.75,0.0]],
 [[0.66,0.47],[0.668,0.45],[0.672,0.42],[0.68,0.39],[0.692,0.36],[0.695,0.32],[0.708,0.29],[0.712,0.25],[0.722,0.22],[0.728,0.18],[0.735,0.13],[0.742,0.08],[0.75,0.0]],
 [[0.69,0.465],[0.685,0.44],[0.69,0.41],[0.695,0.38],[0.7,0.35],[0.705,0.32],[0.712,0.28],[0.718,0.24],[0.725,0.2],[0.732,0.15],[0.74,0.1],[0.748,0.04],[0.75,0.0]],
 [[0.645,0.45],[0.655,0.43],[0.66,0.4],[0.67,0.37],[0.678,0.34],[0.685,0.3],[0.695,0.27],[0.7,0.23],[0.712,0.19],[0.72,0.15],[0.73,0.11],[0.74,0.06],[0.75,0.0]],
 [[0.7,0.45],[0.695,0.43],[0.7,0.4],[0.705,0.36],[0.712,0.33],[0.715,0.29],[0.72,0.25],[0.728,0.21],[0.73,0.17],[0.74,0.12],[0.745,0.07],[0.75,0.0]],
 [[0.68,0.47],[0.675,0.45],[0.682,0.42],[0.688,0.39],[0.695,0.36],[0.7,0.33],[0.708,0.29],[0.715,0.26],[0.72,0.22],[0.728,0.18],[0.736,0.13],[0.744,0.07],[0.75,0.0]],
 [[0.655,0.46],[0.665,0.445],[0.668,0.415],[0.678,0.385],[0.688,0.355],[0.692,0.315],[0.702,0.285],[0.708,0.245],[0.718,0.205],[0.728,0.165],[0.734,0.125],[0.743,0.075],[0.75,0.0]],
 [[0.79,0.43],[0.785,0.4],[0.78,0.37],[0.775,0.33],[0.77,0.3],[0.775,0.26],[0.765,0.22],[0.76,0.18],[0.755,0.12],[0.752,0.06],[0.75,0.0]],
 [[0.845,0.468],[0.835,0.44],[0.815,0.42],[0.808,0.4],[0.8,0.37],[0.789,0.343],[0.78,0.31],[0.77,0.28],[0.776,0.24],[0.76,0.2],[0.754,0.185],[0.757,0.122],[0.75,0.06],[0.751,0.0]],
 [[0.852,0.456],[0.84,0.43],[0.825,0.41],[0.812,0.39],[0.805,0.36],[0.795,0.33],[0.785,0.3],[0.778,0.27],[0.78,0.23],[0.766,0.19],[0.76,0.15],[0.758,0.1],[0.752,0.05],[0.75,0.0]],
 [[0.833,0.472],[0.825,0.45],[0.81,0.43],[0.8,0.4],[0.795,0.37],[0.785,0.34],[0.775,0.31],[0.768,0.27],[0.772,0.23],[0.758,0.19],[0.755,0.14],[0.752,0.09],[0.748,0.04],[0.75,0.0]],
 [[0.801,0.472],[0.805,0.45],[0.8,0.42],[0.79,0.4],[0.785,0.37],[0.78,0.34],[0.775,0.3],[0.77,0.27],[0.772,0.23],[0.762,0.19],[0.757,0.14],[0.754,0.09],[0.75,0.04],[0.75,0.0]],
 [[0.84,0.46],[0.83,0.435],[0.818,0.415],[0.808,0.39],[0.8,0.36],[0.79,0.33],[0.782,0.3],[0.772,0.27],[0.775,0.23],[0.762,0.2],[0.758,0.15],[0.755,0.1],[0.75,0.05],[0.752,0.0]],
 [[0.826,0.465],[0.818,0.445],[0.808,0.425],[0.798,0.4],[0.792,0.37],[0.784,0.34],[0.776,0.31],[0.77,0.275],[0.774,0.235],[0.76,0.195],[0.756,0.145],[0.753,0.095],[0.75,0.045],[0.75,0.0]]
];
const P3_PRO_VAL = [-100, -40, -30, -55, -45, -35, -65, -90, -50, -40, -10, -110, -105, -115, -100, -120, -108];

// ---------------- RENDERING ----------------
const FONT = 'Liberation Serif, "Times New Roman", serif';
const VIRIDIS = [[0,'#440154'],[0.0627,'#48186a'],[0.1255,'#472d7b'],[0.1882,'#424086'],[0.2510,'#3b528b'],[0.3137,'#33638d'],[0.3765,'#2c728e'],[0.4392,'#26828e'],[0.5020,'#21918c'],[0.5647,'#1fa088'],[0.6275,'#28ae80'],[0.6902,'#3fbc73'],[0.7529,'#5ec962'],[0.8157,'#84d44b'],[0.8784,'#addc30'],[0.9412,'#d8e219'],[1,'#fde725']];
function hex2rgb(h){return [parseInt(h.slice(1,3),16),parseInt(h.slice(3,5),16),parseInt(h.slice(5,7),16)];}
function viridis(t){
  t = Math.max(0, Math.min(1, t));
  for (let i = 1; i < VIRIDIS.length; i++) {
    if (t <= VIRIDIS[i][0]) {
      const a = VIRIDIS[i-1], b = VIRIDIS[i];
      const f = (t - a[0]) / (b[0] - a[0]);
      const ca = hex2rgb(a[1]), cb = hex2rgb(b[1]);
      return 'rgb(' + ca.map((v,k)=>Math.round(v + f*(cb[k]-v))).join(',') + ')';
    }
  }
  return VIRIDIS[VIRIDIS.length-1][1];
}

const W = 1184, H = 1484;
const PLOT_L = 145, PLOT_R = 1063;
const panels = [
  {groups:[[P1_EVO,P1_EVO_VAL],[P1_MIG,P1_MIG_VAL],[P1_PRO,P1_PRO_VAL]], cb:CB_RANGE_1, cbt:CB_TICKS_1, xt:XTICKS_1, top:95, bot:453, xr:[-0.515,1.179], yr:[-0.0405,0.6184], titleY:70, xlabY:512, xlabSize:28},
  {groups:[[P2_EVO,P2_EVO_VAL],[P2_MIG,P2_MIG_VAL],[P2_PRO,P2_PRO_VAL]], cb:CB_RANGE_2, cbt:CB_TICKS_2, xt:XTICKS_2, top:576, bot:935, xr:[-0.4826,1.2213], yr:[-0.0352,0.6296], titleY:551, xlabY:993, xlabSize:28},
  {groups:[[P3_EVO,P3_EVO_VAL],[P3_MIG,P3_MIG_VAL],[P3_PRO,P3_PRO_VAL]], cb:CB_RANGE_3, cbt:CB_TICKS_3, xt:XTICKS_3, top:1057, bot:1416, xr:[-0.493,1.234], yr:[-0.0396,0.6377], titleY:1031, xlabY:1470, xlabSize:27}
];

const traces = [];
const layout = {
  width: W, height: H, margin:{l:0,r:0,t:0,b:0}, paper_bgcolor:'#fff', plot_bgcolor:'#fff',
  showlegend:false, hovermode:false, font:{family:FONT, color:'#000'}, annotations:[]
};

panels.forEach((p, k) => {
  const n = k + 1;
  const xa = 'x' + (n === 1 ? '' : n), ya = 'y' + (n === 1 ? '' : n);
  const [cmin, cmax] = p.cb;
  const allVals = [], sx = [], sy = [];
  p.groups.forEach(([paths, vals]) => {
    paths.forEach((path, i) => {
      traces.push({type:'scatter', mode:'lines', xaxis:xa, yaxis:ya,
        x: path.map(q => q[0]), y: path.map(q => q[1]),
        line:{color: viridis((vals[i]-cmin)/(cmax-cmin)), width:2.5},
        hoverinfo:'skip', showlegend:false});
      allVals.push(vals[i]); sx.push(path[0][0]); sy.push(path[0][1]);
    });
  });
  const domY = [1 - p.bot/H, 1 - p.top/H];
  traces.push({type:'scatter', mode:'markers', xaxis:xa, yaxis:ya, x:sx, y:sy, hoverinfo:'skip', showlegend:false,
    marker:{size:1, opacity:0, color:allVals, cmin:cmin, cmax:cmax, colorscale:'Viridis', showscale:true,
      colorbar:{x:1074/W, xanchor:'left', xpad:0, y:domY[1], yanchor:'top', ypad:0, len:domY[1]-domY[0], lenmode:'fraction',
        thickness:18, thicknessmode:'pixels', outlinewidth:1.3, outlinecolor:'#000', borderwidth:0,
        ticks:'outside', ticklen:7, tickwidth:1.3, tickcolor:'#000', tickvals:p.cbt,
        tickfont:{family:FONT, size:27, color:'#000'}}}});
  const axCommon = {showline:true, mirror:true, linecolor:'#000', linewidth:1.3, ticks:'outside', ticklen:7, tickwidth:1.3, tickcolor:'#000',
    showgrid:true, gridcolor:'#b0b0b0', gridwidth:1.3, zeroline:false, automargin:false, tickfont:{family:FONT, size:26, color:'#000'}, tickformat:'.1f'};
  layout['xaxis' + (n===1?'':n)] = Object.assign({}, axCommon, {domain:[PLOT_L/W, PLOT_R/W], range:p.xr, tickvals:p.xt, anchor:ya, ticklabelstandoff:-4});
  layout['yaxis' + (n===1?'':n)] = Object.assign({}, axCommon, {domain:domY, range:p.yr, tickvals:YTICKS, anchor:xa, ticklabelstandoff:5});
  const cy = 1 - (p.top + p.bot)/2/H;
  layout.annotations.push(
    {text:PANEL_TITLES[k], xref:'paper', yref:'paper', x:(PLOT_L+PLOT_R)/2/W, y:1-p.titleY/H, xanchor:'center', yanchor:'middle', showarrow:false, font:{family:FONT, size:34}},
    {text:'<i>x</i> position', xref:'paper', yref:'paper', x:(PLOT_L+PLOT_R)/2/W, y:1-p.xlabY/H, xanchor:'center', yanchor:'middle', showarrow:false, font:{family:FONT, size:p.xlabSize}},
    {text:'<i>y</i> position', xref:'paper', yref:'paper', x:70/W, y:cy, xanchor:'center', yanchor:'middle', textangle:-90, showarrow:false, font:{family:FONT, size:28}},
    {text:ROW_LABELS[k], xref:'paper', yref:'paper', x:25/W, y:cy, xanchor:'center', yanchor:'middle', textangle:-90, showarrow:false, font:{family:FONT, size:35}}
  );
  GROUP_LABELS.forEach((g, j) => {
    layout.annotations.push({text:g, xref:xa, yref:ya, x:GROUP_LABEL_X[j], y:GROUP_LABEL_Y, xanchor:'center', yanchor:'middle', showarrow:false, font:{family:FONT, size:28.5}});
  });
});
layout.annotations.push({text:'Traversed paths', xref:'paper', yref:'paper', x:0.5, y:1-22/H, xanchor:'center', yanchor:'middle', showarrow:false, font:{family:FONT, size:34}});

Plotly.newPlot('chart', traces, layout, {staticPlot:true, displayModeBar:false});
</script></body></html>
